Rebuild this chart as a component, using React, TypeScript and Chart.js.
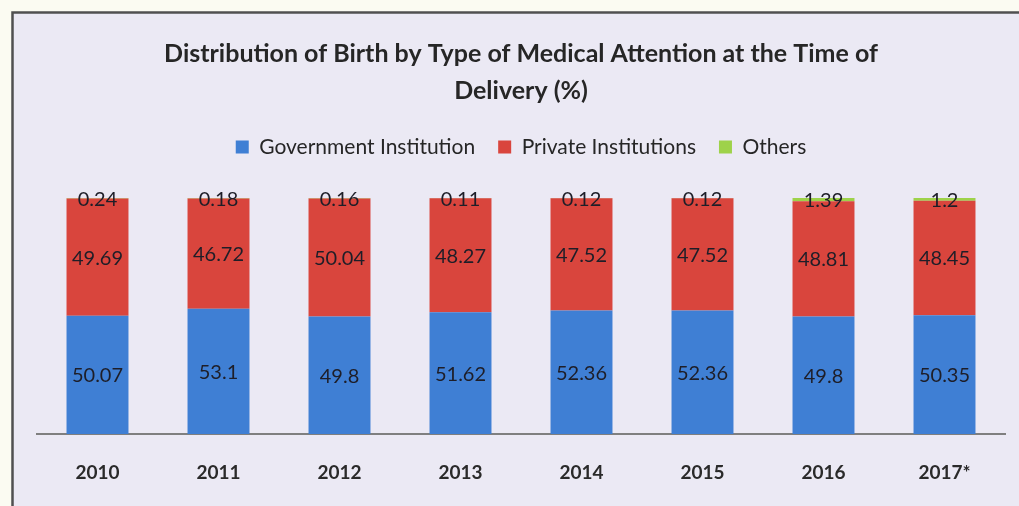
import React, { useEffect, useRef } from "react";
import { Chart, registerables } from "chart.js";

Chart.register(...registerables);

const categories = ["2010", "2011", "2012", "2013", "2014", "2015", "2016", "2017*"];
const government = [50.07, 53.1, 49.8, 51.62, 52.36, 52.36, 49.8, 50.35];
const privateInst = [49.69, 46.72, 50.04, 48.27, 47.52, 47.52, 48.81, 48.45];
const others = [0.24, 0.18, 0.16, 0.11, 0.12, 0.12, 1.39, 1.2];
const seriesNames = ["Government Institution", "Private Institutions", "Others"];
const titleLines = ["Distribution of Birth by Type of Medical Attention at the Time of", "Delivery (%)"];

const FONT = "Lato, 'Open Sans', sans-serif";

const backgroundPlugin = {
  id: "panelBg",
  beforeDraw(chart: any) {
    const { ctx, width, height } = chart;
    ctx.save();
    ctx.fillStyle = "#fbfbf2";
    ctx.fillRect(0, 0, width, height);
    ctx.fillStyle = "#ebe9f4";
    ctx.fillRect(12, 12, width - 12, height - 12);
    ctx.strokeStyle = "#505050";
    ctx.lineWidth = 2.5;
    ctx.beginPath();
    ctx.moveTo(12.5, height);
    ctx.lineTo(12.5, 12.5);
    ctx.lineTo(width, 12.5);
    ctx.stroke();
    ctx.restore();
  },
};

const labelPlugin = {
  id: "segLabels",
  afterDatasetsDraw(chart: any) {
    const { ctx } = chart;
    ctx.save();
    ctx.font = `20px ${FONT}`;
    ctx.fillStyle = "#1e1e28";
    ctx.textAlign = "center";
    ctx.textBaseline = "middle";
    chart.data.datasets.forEach((ds: any, di: number) => {
      const meta = chart.getDatasetMeta(di);
      meta.data.forEach((el: any, i: number) => {
        const y = (el.y + el.base) / 2;
        ctx.fillText(String(ds.data[i]), el.x, y + 1);
      });
    });
    ctx.restore();
  },
};

export default function App() {
  const ref = useRef<HTMLCanvasElement>(null);
  useEffect(() => {
    document.body.style.margin = "0";
    const chart = new Chart(ref.current!, {
      type: "bar",
      data: {
        labels: categories,
        datasets: [
          { label: seriesNames[0], data: government, backgroundColor: "#3f7fd4" },
          { label: seriesNames[1], data: privateInst, backgroundColor: "#d9453d" },
          { label: seriesNames[2], data: others, backgroundColor: "#9ed24a" },
        ],
      },
      options: {
        animation: false,
        responsive: false,
        maintainAspectRatio: false,
        layout: { padding: { left: 37, right: 14, top: 0, bottom: 0 } },
        datasets: { bar: { categoryPercentage: 1, barPercentage: 0.512 } },
        scales: {
          x: {
            stacked: true,
            grid: { display: false, drawTicks: false },
            border: { display: true, color: "#7f7f7f", width: 2 },
            ticks: { color: "#2a2a2a", font: { family: FONT, size: 19, weight: "bold" }, padding: 27 },
            afterFit(scale: any) {
              scale.height = 72;
            },
          },
          y: { stacked: true, display: false, min: 0, max: 100 },
        },
        plugins: {
          title: {
            display: true,
            text: titleLines,
            color: "#262626",
            font: { family: FONT, size: 25, weight: "bold", lineHeight: 1.48 },
            padding: { top: 35, bottom: 4.5 },
          },
          subtitle: {
            display: true,
            text: "",
            weight: 500,
            font: { size: 1, lineHeight: 1 },
            padding: { top: 0, bottom: 29.5 },
          },
          legend: {
            display: true,
            labels: {
              boxWidth: 13,
              boxHeight: 13,
              padding: 23,
              color: "#262626",
              font: { family: FONT, size: 21 },
            },
          },
          tooltip: { enabled: false },
        },
      },
      plugins: [backgroundPlugin, labelPlugin],
    });
    return () => chart.destroy();
  }, []);
  return (
    <div style={{ width: 1019, height: 506 }}>
      <canvas ref={ref} width={1019} height={506} style={{ display: "block" }} />
    </div>
  );
}
